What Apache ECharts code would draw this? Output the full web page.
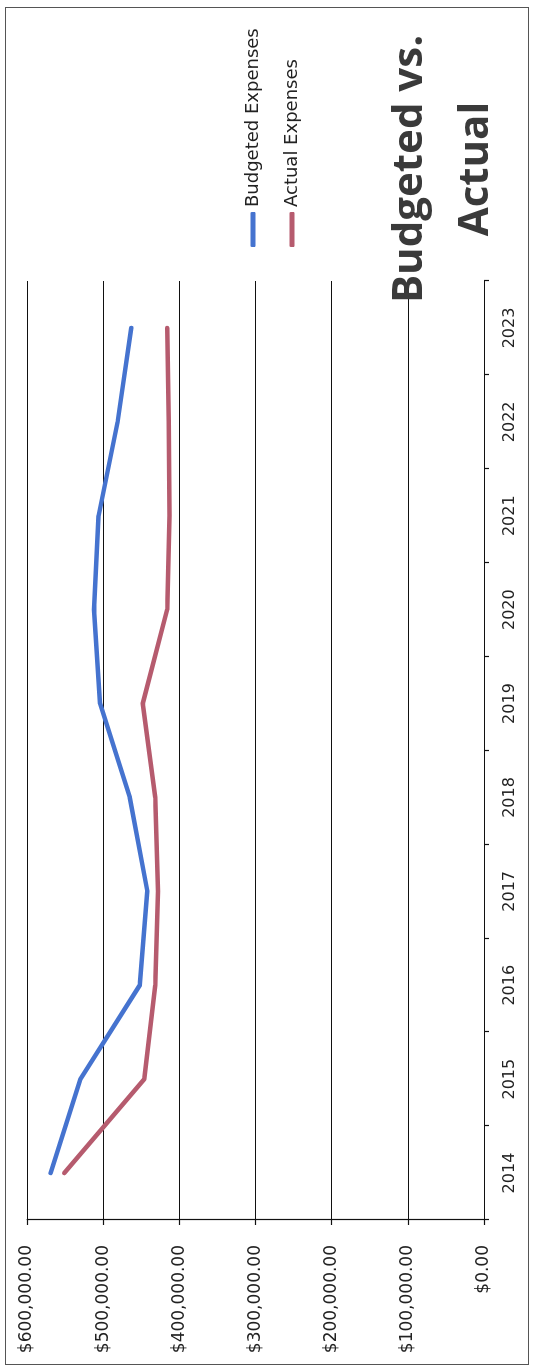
<!DOCTYPE html>
<html>
<head>
<meta charset="utf-8">
<script src="https://cdn.jsdelivr.net/npm/echarts@6/dist/echarts.min.js"></script>
<style>
  html, body { margin: 0; padding: 0; background: #ffffff; width: 536px; height: 1370px; overflow: hidden; }
  #wrap {
    position: absolute; left: 0; top: 0; width: 1370px; height: 536px;
    transform-origin: 0 0; transform: translate(0px, 1370px) rotate(-90deg);
    background: #ffffff;
  }
  #frame { position: absolute; left: 5px; top: 5px; width: 1358px; height: 524px; border: 1.5px solid #555; box-sizing: border-box; }
  #chart { position: absolute; left: 0; top: 0; width: 1370px; height: 536px; }
</style>
</head>
<body>
<div id="wrap"><div id="frame"></div><div id="chart"></div></div>
<script>
const years = ['2014','2015','2016','2017','2018','2019','2020','2021','2022','2023'];
const budgeted = [569000, 530000, 452000, 442000, 465000, 504000, 512000, 506000, 481000, 463000];
const actual   = [551000, 446000, 431500, 428000, 431500, 448000, 416000, 413000, 414000, 416000];
const valueTicks = [0, 100000, 200000, 300000, 400000, 500000, 600000];
const seriesNames = ['Budgeted Expenses', 'Actual Expenses'];
const titleLines = ['Budgeted vs.', 'Actual'];

const fmt = v => '$' + v.toLocaleString('en-US', {minimumFractionDigits: 2, maximumFractionDigits: 2});

const chart = echarts.init(document.getElementById('chart'), null, {renderer: 'canvas', width: 1370, height: 536});
chart.setOption({
  animation: false,
  backgroundColor: 'transparent',
  grid: { left: 150, right: 281, top: 27, bottom: 52, containLabel: false },
  legend: {
    orient: 'vertical', left: 1123, top: 243, padding: 0,
    itemWidth: 35, itemHeight: 5, itemGap: 19, icon: 'roundRect',
    textStyle: { fontFamily: 'DejaVu Sans', fontSize: 18, color: '#222', lineHeight: 20 },
    data: seriesNames
  },
  xAxis: {
    type: 'category', data: years, boundaryGap: true,
    axisLine: { show: true, lineStyle: { color: '#111', width: 1.2 } },
    axisTick: { show: true, length: 5, lineStyle: { color: '#111', width: 1.2 } },
    axisLabel: { fontFamily: 'DejaVu Sans', fontSize: 16, color: '#222', margin: 18 },
    splitLine: { show: false }
  },
  yAxis: {
    type: 'value', min: valueTicks[0], max: valueTicks[valueTicks.length - 1], interval: valueTicks[1] - valueTicks[0],
    axisLine: { show: true, lineStyle: { color: '#111', width: 1.2 } },
    axisTick: { show: true, length: 5, lineStyle: { color: '#111', width: 1.2 } },
    axisLabel: { fontFamily: 'DejaVu Sans', fontSize: 17, color: '#222', margin: 25, formatter: fmt },
    splitLine: { show: true, lineStyle: { color: '#111', width: 1.2 } }
  },
  series: [
    { name: seriesNames[0], type: 'line', data: budgeted, symbol: 'none', smooth: false,
      itemStyle: { color: '#4573cf' }, lineStyle: { color: '#4573cf', width: 4.5, cap: 'round', join: 'round' } },
    { name: seriesNames[1], type: 'line', data: actual, symbol: 'none', smooth: false,
      itemStyle: { color: '#b65b6e' }, lineStyle: { color: '#b65b6e', width: 4.5, cap: 'round', join: 'round' } }
  ],
  graphic: [
    { type: 'text', x: 1201, y: 410, z: 100,
      style: { text: titleLines[0], font: 'bold 42px "Open Sans"', fill: '#3a3a3a', textAlign: 'center', textVerticalAlign: 'middle' } },
    { type: 'text', x: 1201, y: 476, z: 100,
      style: { text: titleLines[1], font: 'bold 42px "Open Sans"', fill: '#3a3a3a', textAlign: 'center', textVerticalAlign: 'middle' } }
  ]
});
</script>
</body>
</html>
